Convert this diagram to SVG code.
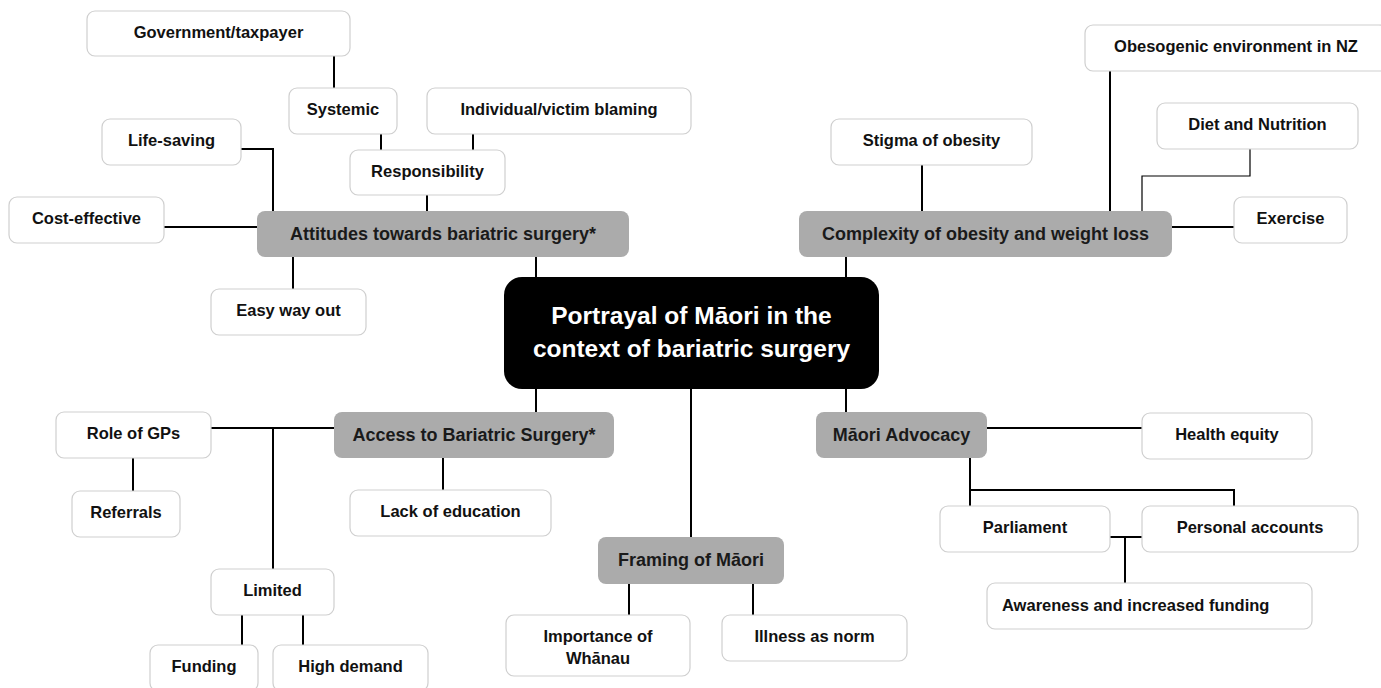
<svg xmlns="http://www.w3.org/2000/svg" width="1381" height="688" viewBox="0 0 1381 688">
<style>
.n rect{fill:#ffffff;stroke:#cfcfcf;stroke-width:1.2}
.n text{font-family:"Liberation Sans",Arial,sans-serif;font-weight:bold;font-size:16.5px;fill:#111;text-anchor:middle}
.c rect{fill:#ababab;stroke:none}
.c text{font-family:"Liberation Sans",Arial,sans-serif;font-weight:bold;font-size:18px;fill:#1a1a1a;text-anchor:middle}
.m rect{fill:#000}
.m text{font-family:"Liberation Sans",Arial,sans-serif;font-weight:bold;font-size:24.5px;fill:#fff;text-anchor:middle}
.e{fill:none;stroke:#000;stroke-width:2}
.t{fill:none;stroke:#000;stroke-width:1.2}
</style>
<rect width="1381" height="688" fill="#fff"/>
<g id="connectors">
<path class="e" d="M334 56V88"/>
<path class="e" d="M381 134V150"/>
<path class="e" d="M473 134V150"/>
<path class="e" d="M427 195V211"/>
<path class="e" d="M241 149H273V211"/>
<path class="e" d="M164 227H257"/>
<path class="e" d="M293 257V289"/>
<path class="e" d="M536 257V277"/>
<path class="e" d="M846 257V277"/>
<path class="e" d="M922 165V211"/>
<path class="e" d="M1110 71V211"/>
<path class="t" d="M1250 149V176H1142V211"/>
<path class="e" d="M1172 227H1234"/>
<path class="e" d="M536 389V412"/>
<path class="e" d="M691 389V537"/>
<path class="e" d="M846 389V412"/>
<path class="e" d="M211 428H334"/>
<path class="e" d="M273 428V569"/>
<path class="e" d="M133 458V491"/>
<path class="e" d="M443 458V490"/>
<path class="e" d="M242 615V645"/>
<path class="e" d="M303 615V645"/>
<path class="e" d="M629 584V615"/>
<path class="e" d="M753 584V615"/>
<path class="e" d="M987 428H1142"/>
<path class="e" d="M970 458V506"/>
<path class="e" d="M970 490H1234V506"/>
<path class="e" d="M1110 537H1142"/>
<path class="e" d="M1125 537V583"/>
</g>
<g id="center" class="m"><rect x="504" y="277" width="375" height="112" rx="18"/><text x="691.5" y="324">Portrayal of Māori in the</text><text x="691.5" y="357">context of bariatric surgery</text></g>
<g id="attitudes" class="c"><rect x="257" y="211" width="372" height="46" rx="8"/><text x="443" y="240">Attitudes towards bariatric surgery*</text></g>
<g id="complexity" class="c"><rect x="799" y="211" width="373" height="46" rx="8"/><text x="985.5" y="240">Complexity of obesity and weight loss</text></g>
<g id="access" class="c"><rect x="334" y="412" width="280" height="46" rx="8"/><text x="474" y="441">Access to Bariatric Surgery*</text></g>
<g id="advocacy" class="c"><rect x="816" y="412" width="171" height="46" rx="8"/><text x="901.5" y="441">Māori Advocacy</text></g>
<g id="framing" class="c"><rect x="598" y="537" width="186" height="47" rx="8"/><text x="691" y="566">Framing of Māori</text></g>
<g id="government" class="n"><rect x="87" y="11" width="263" height="45" rx="8"/><text x="218.5" y="38">Government/taxpayer</text></g>
<g id="systemic" class="n"><rect x="289" y="88" width="108" height="46" rx="8"/><text x="343" y="115">Systemic</text></g>
<g id="individual" class="n"><rect x="427" y="88" width="264" height="46" rx="8"/><text x="559" y="115">Individual/victim blaming</text></g>
<g id="responsibility" class="n"><rect x="350" y="150" width="155" height="45" rx="8"/><text x="427.5" y="177">Responsibility</text></g>
<g id="lifesaving" class="n"><rect x="102" y="119" width="139" height="46" rx="8"/><text x="171.5" y="146">Life-saving</text></g>
<g id="costeffective" class="n"><rect x="9" y="197" width="155" height="46" rx="8"/><text x="86.5" y="224">Cost-effective</text></g>
<g id="easyway" class="n"><rect x="211" y="289" width="155" height="46" rx="8"/><text x="288.5" y="316">Easy way out</text></g>
<g id="stigma" class="n"><rect x="831" y="119" width="201" height="46" rx="8"/><text x="931.5" y="146">Stigma of obesity</text></g>
<g id="obesogenic" class="n"><rect x="1085" y="25" width="302" height="46" rx="8"/><text x="1236" y="52">Obesogenic environment in NZ</text></g>
<g id="diet" class="n"><rect x="1157" y="103" width="201" height="46" rx="8"/><text x="1257.5" y="130">Diet and Nutrition</text></g>
<g id="exercise" class="n"><rect x="1234" y="197" width="113" height="46" rx="8"/><text x="1290.5" y="224">Exercise</text></g>
<g id="rolegps" class="n"><rect x="56" y="412" width="155" height="46" rx="8"/><text x="133.5" y="439">Role of GPs</text></g>
<g id="referrals" class="n"><rect x="72" y="491" width="108" height="46" rx="8"/><text x="126" y="518">Referrals</text></g>
<g id="lackedu" class="n"><rect x="350" y="490" width="201" height="46" rx="8"/><text x="450.5" y="517">Lack of education</text></g>
<g id="limited" class="n"><rect x="211" y="569" width="123" height="46" rx="8"/><text x="272.5" y="596">Limited</text></g>
<g id="funding" class="n"><rect x="150" y="645" width="108" height="46" rx="8"/><text x="204" y="672">Funding</text></g>
<g id="highdemand" class="n"><rect x="273" y="645" width="155" height="46" rx="8"/><text x="350.5" y="672">High demand</text></g>
<g id="whanau" class="n"><rect x="506" y="615" width="184" height="61" rx="8"/><text x="598" y="642">Importance of</text><text x="598" y="664">Whānau</text></g>
<g id="illness" class="n"><rect x="722" y="615" width="185" height="46" rx="8"/><text x="814.5" y="642">Illness as norm</text></g>
<g id="healthequity" class="n"><rect x="1142" y="413" width="170" height="46" rx="8"/><text x="1227" y="440">Health equity</text></g>
<g id="parliament" class="n"><rect x="940" y="506" width="170" height="46" rx="8"/><text x="1025" y="533">Parliament</text></g>
<g id="personal" class="n"><rect x="1142" y="506" width="216" height="46" rx="8"/><text x="1250" y="533">Personal accounts</text></g>
<g id="awareness" class="n"><rect x="987" y="583" width="325" height="46" rx="8"/><text x="1002" y="611" style="text-anchor:start">Awareness and increased funding</text></g>
</svg>
